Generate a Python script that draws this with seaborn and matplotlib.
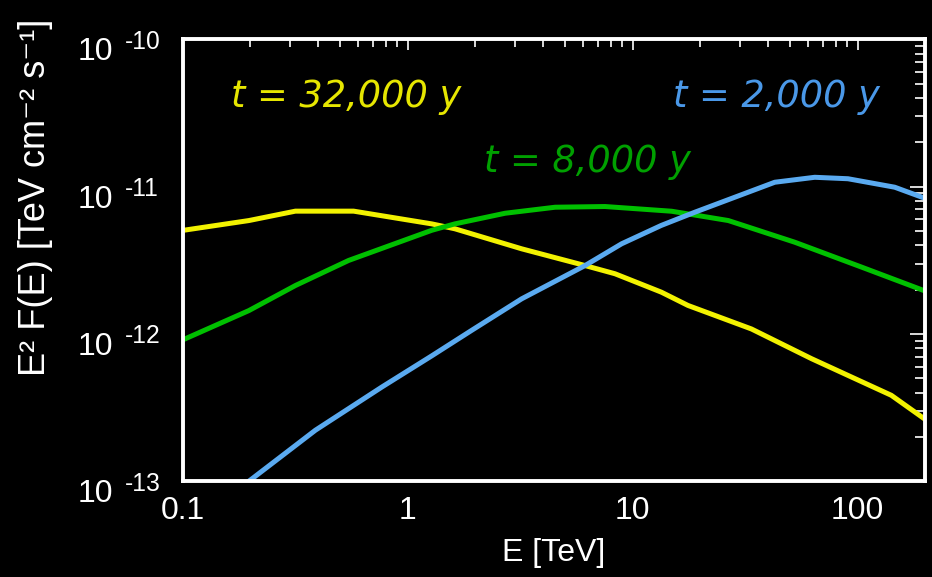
import numpy as np
import pandas as pd
import matplotlib
matplotlib.use("Agg")
import matplotlib.pyplot as plt
import matplotlib.ticker as mticker
import seaborn as sns

# spectra (E in TeV, E^2 F(E) in TeV cm^-2 s^-1)
e_32k = [0.1, 0.197, 0.317, 0.575, 1.28, 1.62, 3.21, 6.14, 8.34, 13.4, 17.6, 33.7, 62.3, 141, 200]
f_32k = [5.04e-12, 5.88e-12, 6.81e-12, 6.81e-12, 5.58e-12, 5.17e-12, 3.78e-12, 2.91e-12,
         2.56e-12, 1.92e-12, 1.56e-12, 1.08e-12, 6.79e-13, 3.83e-13, 2.62e-13]

e_8k = [0.1, 0.197, 0.317, 0.546, 1.28, 1.62, 2.71, 4.52, 7.53, 14.9, 26.6, 52.5, 104, 200]
f_8k = [9.1e-13, 1.44e-12, 2.13e-12, 3.15e-12, 5.05e-12, 5.58e-12, 6.59e-12, 7.24e-12,
        7.32e-12, 6.8e-12, 5.88e-12, 4.19e-12, 2.84e-12, 1.95e-12]

e_2k = [0.185, 0.389, 0.768, 1.28, 1.93, 3.21, 6.14, 8.93, 13.4, 18.9, 42.8, 64.4, 90.5, 146, 200]
f_2k = [9.3e-14, 2.22e-13, 4.36e-13, 7.1e-13, 1.06e-12, 1.73e-12, 2.91e-12, 4.09e-12,
        5.45e-12, 6.7e-12, 1.07e-11, 1.156e-11, 1.13e-11, 9.9e-12, 8.3e-12]

labels = ["t = 32,000 y", "t = 8,000 y", "t = 2,000 y"]
line_colors = ["#f2f200", "#00c000", "#5aaaf0"]
text_colors = ["#e6e600", "#00a000", "#4a98e8"]

xticks = [0.1, 1, 10, 100]
xticklabels = ["0.1", "1", "10", "100"]
yticks = [1e-13, 1e-12, 1e-11, 1e-10]
yexponents = ["-13", "-12", "-11", "-10"]

df = pd.concat([
    pd.DataFrame({"E": e_32k, "F": f_32k, "age": labels[0]}),
    pd.DataFrame({"E": e_8k, "F": f_8k, "age": labels[1]}),
    pd.DataFrame({"E": e_2k, "F": f_2k, "age": labels[2]}),
])

sns.set_style("dark")
plt.rcParams["font.family"] = ["Liberation Sans", "DejaVu Sans"]

fig = plt.figure(figsize=(9.32, 5.77), dpi=100, facecolor="black")
ax = fig.add_axes([0.196, 0.166, 0.797, 0.766])
ax.set_facecolor("black")

sns.lineplot(data=df, x="E", y="F", hue="age", palette=dict(zip(labels, line_colors)),
             estimator=None, sort=False, linewidth=3.6, legend=False, ax=ax)

ax.set_xscale("log")
ax.set_yscale("log")
ax.set_xlim(0.1, 200)
ax.set_ylim(1e-13, 1e-10)
ax.grid(False)

ax.xaxis.set_major_locator(mticker.FixedLocator(xticks))
ax.xaxis.set_major_formatter(mticker.FixedFormatter(xticklabels))
ax.yaxis.set_major_locator(mticker.FixedLocator(yticks))
ax.yaxis.set_major_formatter(mticker.NullFormatter())
ax.xaxis.set_minor_locator(mticker.LogLocator(base=10, subs=np.arange(2, 10)))
ax.yaxis.set_minor_locator(mticker.LogLocator(base=10, subs=np.arange(2, 10)))
ax.xaxis.set_minor_formatter(mticker.NullFormatter())
ax.yaxis.set_minor_formatter(mticker.NullFormatter())

ax.tick_params(which="both", direction="in", colors="white", top=True, right=True,
               labelsize=23, width=1.2)
ax.tick_params(axis="x", which="major", length=8, pad=11)
ax.tick_params(axis="x", which="minor", length=5.5)
ax.tick_params(axis="y", which="major", length=11)
ax.tick_params(axis="y", which="minor", length=7)
for s in ax.spines.values():
    s.set_color("white")
    s.set_linewidth(2.8)

# y tick labels written as "10" plus a raised exponent
for v, ex in zip(yticks, yexponents):
    ax.annotate("10", xy=(0, v), xycoords=("axes fraction", "data"),
                xytext=(-50.4, -15.1), textcoords="offset points",
                ha="right", va="baseline", color="white", fontsize=23)
    ax.annotate(ex, xy=(0, v), xycoords=("axes fraction", "data"),
                xytext=(-41.8, -6.7), textcoords="offset points",
                ha="left", va="baseline", color="white", fontsize=17.7)

ax.set_xlabel("E [TeV]", color="white", fontsize=23, labelpad=8)
ax.set_ylabel("")
fig.text(36 / 932, 1 - 197 / 577, "E² F(E) [TeV cm⁻² s⁻¹]", rotation=90,
         color="white", fontsize=26, ha="center", va="center")

# curve labels
label_pos = [(0.22, 0.871), (0.5445, 0.724), (0.799, 0.871)]
for lab, col, (tx, ty) in zip(labels, text_colors, label_pos):
    ax.text(tx, ty, lab, transform=ax.transAxes, color=col, fontsize=26.5,
            family="DejaVu Sans", style="oblique", va="center", ha="center")

fig.savefig("out.png", dpi=100, facecolor="black")
